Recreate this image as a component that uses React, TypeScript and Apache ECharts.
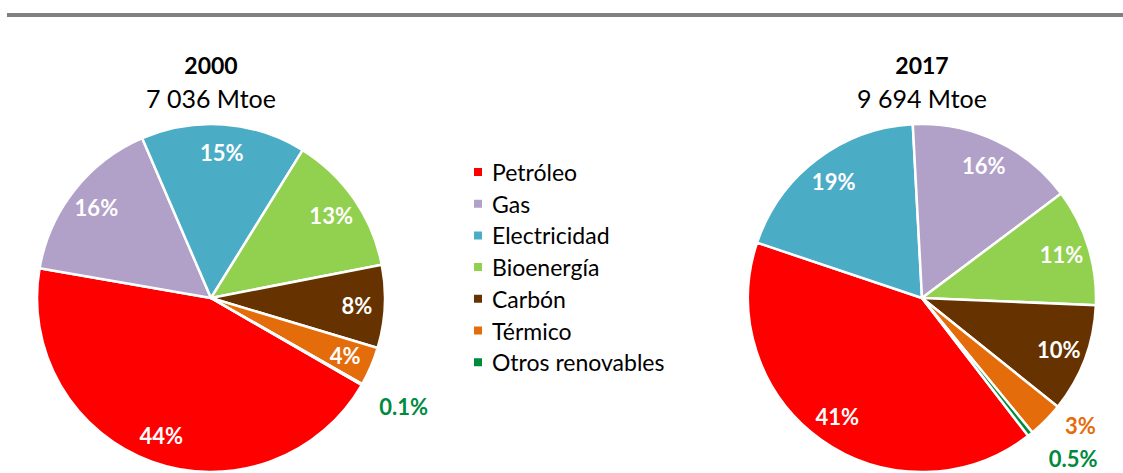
import React, { useEffect, useRef } from "react";
import * as echarts from "echarts";

// ---- data ----
const categories = ["Petróleo", "Gas", "Electricidad", "Bioenergía", "Carbón", "Térmico", "Otros renovables"];
const shares2000 = [44.4, 15.8, 15.3, 13.1, 7.7, 3.6, 0.1];
const labels2000 = ["44%", "16%", "15%", "13%", "8%", "4%", "0.1%"];
const shares2017 = [40.6, 15.6, 19.0, 10.9, 10.1, 3.3, 0.5];
const labels2017 = ["41%", "16%", "19%", "11%", "10%", "3%", "0.5%"];
const order2000 = [0, 1, 2, 3, 4, 5, 6];
const order2017 = [0, 2, 1, 3, 4, 5, 6];
const outside2000 = ["Otros renovables"];
const outside2017 = ["Térmico", "Otros renovables"];
const years = ["2000", "2017"];
const totals = ["7 036 Mtoe", "9 694 Mtoe"];

const colors = ["#FF0000", "#B1A0C7", "#4BACC6", "#92D050", "#663300", "#E46C0A", "#008A3E"];
const FONT = "Lato, 'Noto Sans', sans-serif";

export default function App() {
  const ref = useRef<HTMLDivElement>(null);
  useEffect(() => {
    if (!ref.current) return;
    const chart = echarts.init(ref.current, undefined, { renderer: "svg" });
    const R = 174;

    const build = (
      shares: number[],
      labels: string[],
      order: number[],
      outside: string[],
      center: [number, number],
      startAngle: number,
      offsets: Record<string, [number, number]>
    ) => {
      const mainData = order.map((i) => {
        const isOut = outside.includes(categories[i]);
        return {
          name: categories[i],
          value: shares[i],
          itemStyle: { color: colors[i] },
          label: isOut
            ? {
                show: true,
                position: "outside",
                formatter: labels[i],
                color: colors[i],
                fontSize: 22,
                lineHeight: 18,
                fontWeight: "bold",
                fontFamily: FONT,
              }
            : { show: false },
        };
      });
      const overlayData = order.map((i) => {
        const isOut = outside.includes(categories[i]);
        return {
          name: categories[i],
          value: shares[i],
          label: { show: !isOut, formatter: labels[i] },
        };
      });
      return [
        {
          type: "pie",
          center,
          radius: [0, R],
          startAngle,
          clockwise: true,
          avoidLabelOverlap: false,
          silent: true,
          itemStyle: { borderColor: "#ffffff", borderWidth: 2.5 },
          label: { show: false },
          labelLine: { show: false, length: 20, length2: 0 },
          labelLayout: (p: any) => {
            const name = categories[order[p.dataIndex]];
            const o = offsets[name];
            return o ? { dx: o[0], dy: o[1] } : {};
          },
          emphasis: { disabled: true },
          data: mainData,
        },
        {
          type: "pie",
          center,
          radius: [112, R],
          startAngle,
          clockwise: true,
          silent: true,
          legendHoverLink: false,
          avoidLabelOverlap: false,
          itemStyle: { color: "rgba(0,0,0,0)", borderWidth: 0 },
          label: {
            show: true,
            position: "inside",
            color: "#ffffff",
            fontSize: 22,
            fontWeight: "bold",
            fontFamily: FONT,
          },
          labelLine: { show: false },
          emphasis: { disabled: true },
          data: overlayData,
        },
      ];
    };

    const series = [
      ...build(shares2000, labels2000, order2000, outside2000, [211, 298], -30, {
        "Otros renovables": [-5, 12],
      }),
      ...build(shares2017, labels2017, order2017, outside2017, [922, 298], -52.4, {
        "Térmico": [0, -9],
        "Otros renovables": [1, 8.5],
      }),
    ];

    const titleText = (x: number, i: number) => [
      {
        type: "text",
        x,
        y: 65,
        style: {
          text: years[i],
          fill: "#000",
          font: `bold 23px ${FONT}`,
          textAlign: "center",
          textVerticalAlign: "middle",
        },
      },
      {
        type: "text",
        x,
        y: 98,
        style: {
          text: totals[i],
          fill: "#000",
          font: `25px ${FONT}`,
          textAlign: "center",
          textVerticalAlign: "middle",
        },
      },
    ];

    chart.setOption({
      animation: false,
      backgroundColor: "#ffffff",
      legend: {
        orient: "vertical",
        left: 472,
        top: 160,
        padding: 0,
        itemWidth: 10,
        itemHeight: 10,
        itemGap: 7.7,
        icon: "rect",
        selectedMode: false,
        textStyle: {
          fontFamily: FONT,
          fontSize: 23,
          lineHeight: 24,
          color: "#000",
          padding: [0, 0, 0, 4],
        },
        data: categories.map((c, i) => ({ name: c, itemStyle: { color: colors[i] } })),
      },
      graphic: [
        {
          type: "rect",
          shape: { x: 7, y: 13, width: 1116, height: 4 },
          style: { fill: "#808080" },
        },
        ...titleText(211, 0),
        ...titleText(922, 1),
      ],
      series,
    });
    return () => chart.dispose();
  }, []);

  return (
    <div
      ref={ref}
      style={{ position: "fixed", left: 0, top: 0, width: 1123, height: 473, background: "#fff" }}
    />
  );
}
